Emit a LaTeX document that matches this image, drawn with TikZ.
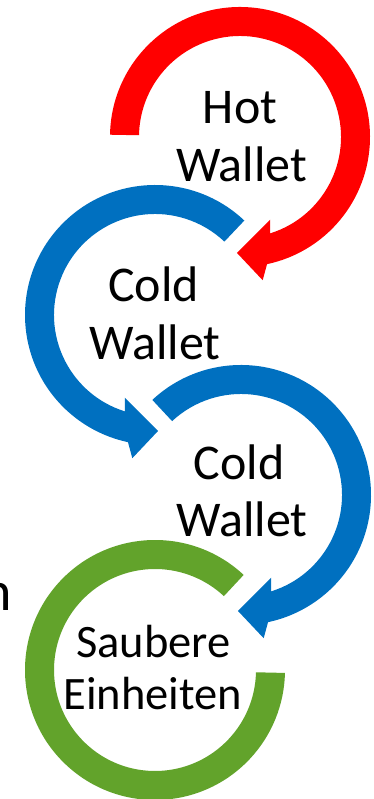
\documentclass[tikz,border=0pt]{standalone}
\usepackage{fontspec}
\setmainfont{Carlito}
\definecolor{cred}{HTML}{FF0000}
\definecolor{cblue}{HTML}{0070C0}
\definecolor{cgreen}{HTML}{62A32B}
\begin{document}
\begin{tikzpicture}[x=1pt,y=1pt,
  lbl/.style={inner sep=0pt, anchor=base, font=\fontsize{50}{58}\selectfont},
  lbls/.style={inner sep=0pt, anchor=base, font=\fontsize{46.5}{52}\selectfont}]
\useasboundingbox (0,0) rectangle (374,799);
\clip (0,0) rectangle (374,799);
% red circular arrow
\begin{scope}[shift={(240,662)}]
\fill[cred] (179:101) -- (179:130) arc[start angle=179, end angle=-78, radius=130]
  -- (-81:145) -- (-91.5:116) -- (-70:88) -- (-72.6:101)
  arc[start angle=-72.6, end angle=179, radius=101] -- cycle;
\end{scope}
% blue circular arrow 1
\begin{scope}[shift={(155,484)}]
\fill[cblue] (46.6:101) -- (46.6:130) arc[start angle=46.6, end angle=258, radius=130]
  -- (261:145) -- (271.5:116) -- (250:88) -- (252.6:101)
  arc[start angle=252.6, end angle=46.6, radius=101] -- cycle;
\end{scope}
% blue circular arrow 2
\begin{scope}[shift={(241,304)}]
\fill[cblue] (133:101) -- (133:130) arc[start angle=133, end angle=-78, radius=130]
  -- (-81:145) -- (-91.5:116) -- (-70:88) -- (-72.6:101)
  arc[start angle=-72.6, end angle=133, radius=101] -- cycle;
\end{scope}
% green ring
\begin{scope}[shift={(155,129)}]
\fill[cgreen] (47:101) -- (47:130) arc[start angle=47, end angle=358.7, radius=130]
  -- (358.7:101) arc[start angle=358.7, end angle=47, radius=101] -- cycle;
\end{scope}
% labels
\node[lbl] (hot1) at (240,675) {Hot};
\node[lbl] (hot2) at (241.5,617) {Wallet};
\node[lbl] (colda1) at (153.5,497) {Cold};
\node[lbl] (colda2) at (155,439) {Wallet};
\node[lbl] (coldb1) at (239,319) {Cold};
\node[lbl] (coldb2) at (242,262) {Wallet};
\node[lbls] (clean1) at (153.5,141) {Saubere};
\node[lbls] (clean2) at (153,89) {Einheiten};
\node[inner sep=0pt, anchor=base east, font=\fontsize{56}{60}\selectfont] (frag) at (12,188) {n};
\end{tikzpicture}
\end{document}
